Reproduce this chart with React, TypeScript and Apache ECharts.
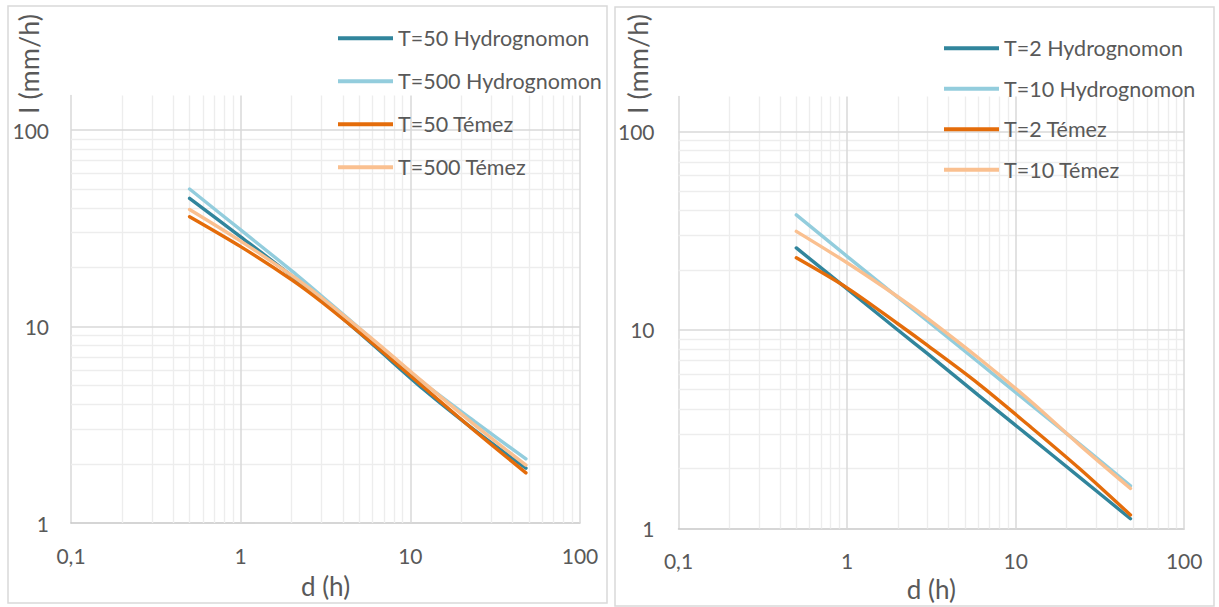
import React, { useEffect, useRef } from "react";
import * as echarts from "echarts";

// Durations (h)
const durations = [0.5, 1, 2, 3, 6, 12, 24, 48];

// Left chart (T=50, T=500)
const leftT50Hydro = [44.9, 28.6, 18.1, 13.6, 8.1, 4.78, 2.96, 1.9];
const leftT500Hydro = [50.1, 31.0, 19.2, 14.3, 8.56, 5.15, 3.28, 2.12];
const leftT50Temez = [36.2, 25.5, 17.3, 13.35, 8.2, 4.91, 2.94, 1.8];
const leftT500Temez = [39.4, 27.2, 18.2, 14.0, 8.6, 5.18, 3.15, 1.97];

// Right chart (T=2, T=10)
const rightT2Hydro = [25.9, 16.1, 10.0, 7.6, 4.7, 2.92, 1.81, 1.12];
const rightT10Hydro = [38.0, 23.5, 14.6, 11.1, 6.9, 4.28, 2.66, 1.64];
const rightT2Temez = [23.1, 16.3, 10.75, 8.36, 5.37, 3.3, 2.0, 1.17];
const rightT10Temez = [31.4, 21.8, 14.7, 11.45, 7.25, 4.45, 2.63, 1.59];

const leftNames = ["T=50 Hydrognomon", "T=500 Hydrognomon", "T=50 Témez", "T=500 Témez"];
const rightNames = ["T=2 Hydrognomon", "T=10 Hydrognomon", "T=2 Témez", "T=10 Témez"];

const colors = ["#31859C", "#93CDDD", "#E46C0A", "#FAC090"];

// Axis ticks / gridlines
const xMajor = [1, 10, 100];
const xMinor = [0.2, 0.3, 0.4, 0.5, 0.6, 0.7, 0.8, 0.9, 2, 3, 4, 5, 6, 7, 8, 9, 20, 30, 40, 50, 60, 70, 80, 90];
const yMajor = [10, 100];
const yMinor = [2, 3, 4, 5, 6, 7, 8, 9, 20, 30, 40, 50, 60, 70, 80, 90];

const FONT = "Lato";
const TEXT = "#595959";

const pairs = (vals: number[]) => durations.map((d, i) => [d, vals[i]]);

export default function App() {
  const ref = useRef<HTMLDivElement>(null);
  useEffect(() => {
    if (!ref.current) return;
    const chart = echarts.init(ref.current, null, { renderer: "svg" });

    const gridLines = () => [
      ...xMinor.map((v) => ({ xAxis: v, lineStyle: { color: "#ededed", width: 1.4, type: "solid" } })),
      ...yMinor.map((v) => ({ yAxis: v, lineStyle: { color: "#ededed", width: 1.4, type: "solid" } })),
      ...xMajor.map((v) => ({ xAxis: v, lineStyle: { color: "#d9d9d9", width: 1.5, type: "solid" } })),
      ...yMajor.map((v) => ({ yAxis: v, lineStyle: { color: "#d9d9d9", width: 1.5, type: "solid" } })),
    ];

    const dummy = (idx: number) => ({
      type: "line",
      name: "__grid" + idx,
      xAxisIndex: idx,
      yAxisIndex: idx,
      data: [],
      z: 1,
      silent: true,
      markLine: {
        z: 1,
        silent: true,
        symbol: ["none", "none"],
        label: { show: false },
        emphasis: { disabled: true },
        animation: false,
        data: gridLines(),
      },
    });

    const lineSeries = (name: string, vals: number[], idx: number, color: string) => ({
      type: "line",
      name,
      xAxisIndex: idx,
      yAxisIndex: idx,
      data: pairs(vals),
      symbol: "none",
      smooth: 0.3,
      z: 3,
      lineStyle: { color, width: 3.4, cap: "round" },
      itemStyle: { color },
    });

    const xAxis = (idx: number, gap: number, margin: number) => ({
      type: "log",
      logBase: 10,
      gridIndex: idx,
      min: 0.1,
      max: 100,
      name: "d (h)",
      nameLocation: "middle",
      nameGap: gap,
      nameTextStyle: { fontFamily: FONT, fontSize: 26, color: TEXT },
      axisLine: { show: true, lineStyle: { color: "#c8c8c8", width: 1.5 } },
      axisTick: { show: false },
      splitLine: { show: false },
      axisLabel: {
        margin,
        fontFamily: FONT,
        fontSize: 21,
        color: TEXT,
        formatter: (v: number) => String(+v.toPrecision(6)).replace(".", ","),
      },
    });

    const yAxis = (idx: number, margin: number) => ({
      type: "log",
      logBase: 10,
      gridIndex: idx,
      min: 1,
      max: 150,
      axisLine: { show: true, lineStyle: { color: "#d9d9d9", width: 1.5 } },
      axisTick: { show: false },
      splitLine: { show: false },
      axisLabel: {
        margin,
        fontFamily: FONT,
        fontSize: 21,
        color: TEXT,
        showMaxLabel: false,
        formatter: (v: number) => String(+v.toPrecision(6)),
      },
    });

    const legend = (names: string[], left: number, top: number, gap: number) => ({
      orient: "vertical",
      left,
      top,
      padding: 0,
      itemWidth: 55,
      itemHeight: 4,
      itemGap: gap,
      icon: "rect",
      selectedMode: false,
      z: 6,
      data: names,
      textStyle: { fontFamily: FONT, fontSize: 21.5, color: TEXT, lineHeight: 21.5 },
    });

    const option: any = {
      animation: false,
      backgroundColor: "#ffffff",
      grid: [
        { left: 71, top: 95.4, width: 509, height: 427.6 },
        { left: 678.5, top: 96.5, width: 505.7, height: 433 },
      ],
      xAxis: [xAxis(0, 50, 22), xAxis(1, 47.5, 21)],
      yAxis: [yAxis(0, 22), yAxis(1, 24)],
      legend: [legend(leftNames, 338, 27.3, 21), legend(rightNames, 944, 37.3, 18.5)],
      series: [
        dummy(0),
        dummy(1),
        lineSeries(leftNames[0], leftT50Hydro, 0, colors[0]),
        lineSeries(leftNames[1], leftT500Hydro, 0, colors[1]),
        lineSeries(leftNames[2], leftT50Temez, 0, colors[2]),
        lineSeries(leftNames[3], leftT500Temez, 0, colors[3]),
        lineSeries(rightNames[0], rightT2Hydro, 1, colors[0]),
        lineSeries(rightNames[1], rightT10Hydro, 1, colors[1]),
        lineSeries(rightNames[2], rightT2Temez, 1, colors[2]),
        lineSeries(rightNames[3], rightT10Temez, 1, colors[3]),
      ],
      graphic: [
        {
          type: "rect",
          shape: { x: 8, y: 6, width: 599, height: 597 },
          style: { fill: "none", stroke: "#d9d9d9", lineWidth: 1.5 },
          silent: true,
        },
        {
          type: "rect",
          shape: { x: 615, y: 7, width: 599, height: 599 },
          style: { fill: "none", stroke: "#d9d9d9", lineWidth: 1.5 },
          silent: true,
        },
        {
          type: "text",
          x: 28,
          y: 64,
          rotation: Math.PI / 2,
          style: { text: "I (mm/h)", fontFamily: FONT, fontSize: 27, fill: TEXT, align: "center", verticalAlign: "middle" },
          silent: true,
        },
        {
          type: "text",
          x: 637,
          y: 64,
          rotation: Math.PI / 2,
          style: { text: "I (mm/h)", fontFamily: FONT, fontSize: 27, fill: TEXT, align: "center", verticalAlign: "middle" },
          silent: true,
        },
      ],
    };

    chart.setOption(option);
    return () => chart.dispose();
  }, []);

  return (
    <div
      ref={ref}
      style={{ position: "fixed", left: 0, top: 0, width: 1219, height: 607, background: "#fff" }}
    />
  );
}
